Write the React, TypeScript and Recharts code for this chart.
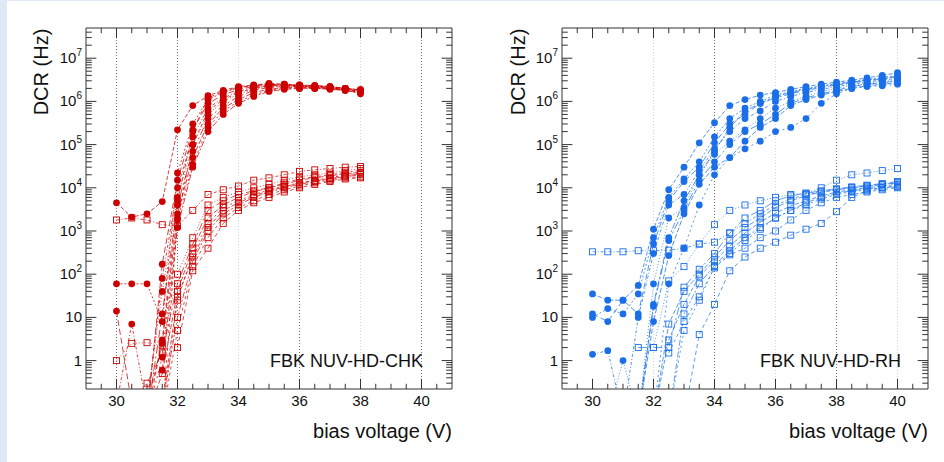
import { LineChart, Line, XAxis, YAxis, ReferenceLine } from 'recharts';

const FONT = '"Liberation Sans", Arial, sans-serif';

// bias voltage points (V)
const V_CHK = [30, 30.5, 31, 31.5, 32, 32.5, 33, 33.5, 34, 34.5, 35, 35.5, 36, 36.5, 37, 37.5, 38];
const V_RH = [30, 30.5, 31, 31.5, 32, 32.5, 33, 33.5, 34, 34.5, 35, 35.5, 36, 36.5, 37, 37.5, 38, 38.5, 39, 39.5, 40];

// FBK NUV-HD-CHK, upper family (filled circles), DCR in Hz
const CHK_HIGH = [
  [4500, 2100, 2500, 4800, 2.2e5, 8e5, 1.35e6, 1.8e6, 2.2e6, 2.4e6, 2.6e6, 2.5e6, 2.4e6, 2.3e6, 2.2e6, 2.0e6, 1.8e6],
  [60, 60, 60, 8, 2.2e4, 3e5, 1.1e6, 1.6e6, 2.1e6, 2.3e6, 2.5e6, 2.5e6, 2.4e6, 2.3e6, 2.2e6, 2.0e6, 1.9e6],
  [14, 0.1, 0.05, 170, 1.5e4, 2.2e5, 9e5, 1.4e6, 1.9e6, 2.2e6, 2.4e6, 2.4e6, 2.3e6, 2.3e6, 2.2e6, 2.0e6, 1.8e6],
  [0.1, 7, 0.08, 80, 1e4, 1.5e5, 7e5, 1.2e6, 1.7e6, 2.1e6, 2.3e6, 2.4e6, 2.3e6, 2.2e6, 2.1e6, 1.9e6, 1.7e6],
  [null, 0.05, 0.1, 40, 6e3, 1e5, 5e5, 1e6, 1.5e6, 1.9e6, 2.2e6, 2.3e6, 2.2e6, 2.2e6, 2.1e6, 1.9e6, 1.7e6],
  [null, null, 0.05, 12, 4e3, 7e4, 4e5, 8e5, 1.3e6, 1.8e6, 2.1e6, 2.2e6, 2.2e6, 2.1e6, 2.0e6, 1.9e6, 1.6e6],
  [null, null, 0.1, 2.5, 2.5e3, 5e4, 3e5, 7e5, 1.1e6, 1.6e6, 1.9e6, 2.1e6, 2.1e6, 2.1e6, 2.0e6, 1.8e6, 1.6e6],
  [null, null, 0.05, 1.2, 1.8e3, 3.5e4, 2.5e5, 6e5, 1e6, 1.4e6, 1.8e6, 2.0e6, 2.0e6, 2.0e6, 2.0e6, 1.8e6, 1.5e6],
  [null, null, null, 0.6, 1.2e3, 3e4, 2e5, 5e5, 9e5, 1.3e6, 1.7e6, 1.9e6, 2.0e6, 2.0e6, 1.9e6, 1.8e6, 1.6e6],
  [null, null, null, 0.05, 2e3, 1e5, 6e5, 1.1e6, 1.6e6, 2.0e6, 2.3e6, 2.3e6, 2.2e6, 2.1e6, 2.0e6, 1.9e6, 1.7e6],
  [null, null, 0.05, 3, 5e3, 2e5, 1.2e6, 1.7e6, 2.1e6, 2.3e6, 2.5e6, 2.4e6, 2.3e6, 2.2e6, 2.1e6, 2.0e6, 1.8e6],
];

// FBK NUV-HD-CHK, lower family (open squares)
const CHK_LOW = [
  [1800, 2000, 1800, 1400, 1300, 3000, 7000, 9000, 1.1e4, 1.5e4, 1.7e4, 2e4, 2.4e4, 2.6e4, 2.8e4, 3e4, 3.1e4],
  [1, 2.5, 2.6, 2.2, 100, 700, 4000, 6000, 8000, 1e4, 1.2e4, 1.5e4, 1.8e4, 2e4, 2.2e4, 2.5e4, 2.8e4],
  [0.05, 0.1, 0.3, 1.5, 60, 500, 3000, 5000, 7000, 8500, 1e4, 1.3e4, 1.6e4, 1.8e4, 2e4, 2.3e4, 2.5e4],
  [null, null, 0.05, 0.5, 40, 400, 2000, 4000, 6000, 8000, 1e4, 1.2e4, 1.5e4, 1.7e4, 1.9e4, 2.1e4, 2.3e4],
  [null, null, null, 0.05, 25, 300, 1500, 3500, 5000, 7000, 9000, 1.1e4, 1.3e4, 1.5e4, 1.7e4, 2e4, 2.2e4],
  [null, null, null, 0.1, 10, 200, 1000, 2500, 4000, 6000, 8000, 1e4, 1.2e4, 1.4e4, 1.6e4, 1.8e4, 2e4],
  [null, null, null, 0.05, 5, 150, 700, 2000, 3500, 5000, 7000, 9000, 1.1e4, 1.3e4, 1.5e4, 1.7e4, 1.8e4],
  [null, null, null, null, 2, 120, 400, 1500, 3000, 4500, 6000, 8000, 1e4, 1.2e4, 1.4e4, 1.6e4, 1.7e4],
  [null, null, null, 0.1, 30, 250, 1200, 3000, 4500, 6500, 8500, 1.05e4, 1.3e4, 1.45e4, 1.65e4, 1.9e4, 2.1e4],
];

// FBK NUV-HD-RH, upper family (filled circles)
const RH_HIGH = [
  [35, 25, 25, 55, 1100, 9000, 3e4, 1.1e5, 3.2e5, 8e5, 1.1e6, 1.4e6, 1.6e6, 1.9e6, 2.2e6, 2.5e6, 2.8e6, 3.1e6, 3.5e6, 4e6, 4.6e6],
  [10, 16, 12, 35, 700, 6000, 1.6e4, 4e4, 1.5e5, 4e5, 7e5, 1e6, 1.4e6, 1.7e6, 2e6, 2.3e6, 2.6e6, 2.9e6, 3.2e6, 3.6e6, 4e6],
  [12, 8, 25, 12, 500, 5000, 1.4e4, 3e4, 1.1e5, 3e5, 5e5, 9e5, 1.2e6, 1.5e6, 1.8e6, 2.1e6, 2.4e6, 2.7e6, 3e6, 3.3e6, 3.7e6],
  [1.4, 1.7, 0.05, 10, 300, 4000, 7000, 2.5e4, 8e4, 2e5, 4e5, 6e5, 1e6, 1.3e6, 1.6e6, 1.9e6, 2.2e6, 2.5e6, 2.8e6, 3.1e6, 3.4e6],
  [0.05, 0.05, 1, 0.05, 60, 2000, 3500, 2e4, 6e4, 1.2e5, 2.2e5, 4e5, 7e5, 1e6, 1.3e6, 1.7e6, 2e6, 2.3e6, 2.6e6, 2.9e6, 3.2e6],
  [null, null, null, 0.05, 18, 600, 3000, 1.5e4, 4e4, 1e5, 2e5, 3e5, 5e5, 9e5, 1.2e6, 1.5e6, 1.8e6, 2.2e6, 2.5e6, 2.7e6, 3e6],
  [null, null, null, 0.05, 8, 270, 2500, 1.2e4, 3e4, 5e4, 1.2e5, 2.5e5, 4e5, 8e5, 1.1e6, 1.4e6, 1.7e6, 2e6, 2.3e6, 2.5e6, 2.7e6],
  [null, null, null, null, 0.05, 60, 400, 4000, 2e4, 5e4, 8e4, 1.2e5, 2e5, 2.5e5, 4e5, 9e5, 1.5e6, 2e6, 2.2e6, 2.3e6, 2.5e6],
  [null, null, null, 0.05, 20, 700, 5000, 2e4, 7e4, 2.5e5, 6e5, 9e5, 1.3e6, 1.6e6, 1.9e6, 2.2e6, 2.5e6, 2.8e6, 3.1e6, 3.4e6, 3.8e6],
];

// FBK NUV-HD-RH, lower family (open squares)
const RH_LOW = [
  [330, 330, 330, 350, 350, 360, 400, 500, 550, 900, 1500, 2500, 4000, 5500, 7000, 8000, 9000, 1e4, 1.1e4, 1.2e4, 1.3e4],
  [null, null, null, null, 2, 70, 150, 500, 1400, 3000, 4000, 5000, 6000, 7000, 7500, 1e4, 1.5e4, 2e4, 2.2e4, 2.5e4, 2.8e4],
  [null, null, null, 2, 2, 2, 50, 130, 300, 900, 2000, 3000, 5000, 6500, 7500, 8500, 9500, 1.05e4, 1.15e4, 1.25e4, 1.4e4],
  [null, null, null, null, 0.05, 7, 40, 100, 250, 600, 1200, 2000, 3500, 5000, 6500, 8000, 9000, 1e4, 1.1e4, 1.2e4, 1.3e4],
  [null, null, null, null, null, 0.05, 5, 25, 150, 300, 600, 1100, 2000, 3000, 4000, 5500, 7000, 8000, 9000, 1e4, 1.1e4],
  [null, null, null, null, null, 0.05, 12, 60, 160, 350, 700, 1200, 2000, 3000, 4500, 6000, 7500, 8500, 9500, 1e4, 1.05e4],
  [null, null, null, null, null, 1.5, 8, 30, 140, 280, 400, 700, 1000, 1800, 3000, 4500, 6000, 7000, 8000, 9000, 1e4],
  [null, null, null, null, null, null, 0.05, 4, 20, 120, 250, 400, 550, 800, 1100, 1500, 2800, 6000, 8500, 1e4, 1.1e4],
  [null, null, null, null, 0.05, 3, 20, 90, 200, 450, 900, 1600, 2600, 3800, 5000, 6500, 8000, 9000, 1e4, 1.1e4, 1.2e4],
];

const X_TICKS = [30, 32, 34, 36, 38, 40];
const X_MINOR = [29.5, 30.5, 31, 31.5, 32.5, 33, 33.5, 34.5, 35, 35.5, 36.5, 37, 37.5, 38.5, 39, 39.5, 40.5];
const Y_TICKS = [1, 10, 100, 1e3, 1e4, 1e5, 1e6, 1e7];
const Y_MINOR = [0.3, 0.4, 0.5, 0.6, 0.7, 0.8, 0.9]
  .concat(...Y_TICKS.map((d) => [2, 3, 4, 5, 6, 7, 8, 9].map((m) => m * d)))
  .filter((v) => v < 5e7);

const X_MIN = 29;
const X_MAX = 41;
const Y_MIN = 0.22;
const Y_MAX = 5e7;
const DASHES = ['4 2', '2 2', '6 3', '3 2 1 2', '1 2', '8 3 2 3', '5 2', '2 3', '6 2 2 2', '3 3', '4 3'];

// tick lengths, expressed in axis units (x in volts, y as a log factor)
const XT_MAJOR = 0.34;
const XT_MINOR = 0.19;
const YT_MAJOR = 1.72;
const YT_MINOR = 1.32;

function YTick({ x, y, payload }: any) {
  const v = payload.value;
  const exp = Math.round(Math.log10(v));
  const common = { x, y, dy: 5, textAnchor: 'end' as const, fontSize: 15, fill: '#111', fontFamily: FONT };
  if (exp === 0) return <text {...common}>1</text>;
  if (exp === 1) return <text {...common}>10</text>;
  return (
    <text {...common}>
      10<tspan dy={-7} fontSize={10}>{exp}</tspan>
    </text>
  );
}

function circleDot(color: string, name: string) {
  return (p: any) =>
    p.cy == null || p.cx == null ? null : (
      <circle key={name + p.index} cx={p.cx} cy={p.cy} r={3.4} style={{ fill: color, stroke: 'none' }} />
    );
}

function squareDot(color: string, name: string) {
  return (p: any) =>
    p.cy == null || p.cx == null ? null : (
      <rect key={name + p.index} x={p.cx - 3} y={p.cy - 3} width={6} height={6}
        style={{ fill: 'none', stroke: color, strokeWidth: 0.9, strokeDasharray: 'none', strokeOpacity: 1 }} />
    );
}

interface PanelProps {
  volts: number[];
  high: (number | null)[][];
  low: (number | null)[][];
  color: string;
  width: number;
  leftW: number;
  rightM: number;
  darkGrid: number[];
  lightGrid: number[];
}

function Panel({ volts, high, low, color, width, leftW, rightM, darkGrid, lightGrid }: PanelProps) {
  const rows = volts.map((v, i) => {
    const row: any = { v };
    high.forEach((s, k) => (row['h' + k] = s[i]));
    low.forEach((s, k) => (row['l' + k] = s[i]));
    return row;
  });
  const frame = '#333';
  const ref = { xAxisId: 'x', yAxisId: 'y', stroke: frame, strokeWidth: 1, ifOverflow: 'visible' as const };

  const xTicks = [
    ...X_TICKS.map((t) => ({ t, f: YT_MAJOR })),
    ...X_MINOR.map((t) => ({ t, f: YT_MINOR })),
  ];
  const yTicks = [
    ...Y_TICKS.map((t) => ({ t, len: XT_MAJOR })),
    ...Y_MINOR.map((t) => ({ t, len: XT_MINOR })),
  ];

  return (
    <LineChart width={width} height={462} data={rows} margin={{ top: 28, right: rightM, bottom: 43, left: 0 }}>
      <XAxis xAxisId="x" dataKey="v" type="number" domain={[X_MIN, X_MAX]} allowDataOverflow ticks={X_TICKS} interval={0}
        tickLine={false} axisLine={false} tickSize={0} tickMargin={6} height={30}
        tick={{ fontSize: 15, fill: '#111', fontFamily: FONT }} />
      <YAxis yAxisId="y" type="number" scale="log" domain={[Y_MIN, Y_MAX]} allowDataOverflow ticks={Y_TICKS} interval={0}
        width={leftW} tickLine={false} axisLine={false} tickSize={0} tickMargin={4} tick={<YTick />} />

      {lightGrid.map((g) => (
        <ReferenceLine key={'lg' + g} xAxisId="x" yAxisId="y" x={g} stroke="#d4d4d4" strokeDasharray="1 2" />
      ))}
      {darkGrid.map((g) => (
        <ReferenceLine key={'dg' + g} xAxisId="x" yAxisId="y" x={g} stroke="#555" strokeOpacity={0.85} strokeDasharray="1 2" />
      ))}

      {low.map((_, k) => (
        <Line key={'l' + k} xAxisId="x" yAxisId="y" dataKey={'l' + k} type="linear" stroke={color} strokeOpacity={0.7}
          strokeWidth={1} strokeDasharray={DASHES[(k + 3) % DASHES.length]} dot={squareDot(color, 'l' + k)} activeDot={false}
          isAnimationActive={false} />
      ))}
      {high.map((_, k) => (
        <Line key={'h' + k} xAxisId="x" yAxisId="y" dataKey={'h' + k} type="linear" stroke={color} strokeOpacity={0.75}
          strokeWidth={1} strokeDasharray={DASHES[k % DASHES.length]} dot={circleDot(color, 'h' + k)} activeDot={false}
          isAnimationActive={false} />
      ))}

      {/* frame */}
      <ReferenceLine {...ref} segment={[{ x: X_MIN, y: Y_MIN }, { x: X_MAX, y: Y_MIN }]} />
      <ReferenceLine {...ref} segment={[{ x: X_MIN, y: Y_MAX }, { x: X_MAX, y: Y_MAX }]} />
      <ReferenceLine {...ref} segment={[{ x: X_MIN, y: Y_MIN }, { x: X_MIN, y: Y_MAX }]} />
      <ReferenceLine {...ref} segment={[{ x: X_MAX, y: Y_MIN }, { x: X_MAX, y: Y_MAX }]} />

      {/* inward ticks, bottom and top */}
      {xTicks.map(({ t, f }) => (
        <ReferenceLine key={'xb' + t} {...ref} segment={[{ x: t, y: Y_MIN }, { x: t, y: Y_MIN * f }]} />
      ))}
      {xTicks.map(({ t, f }) => (
        <ReferenceLine key={'xt' + t} {...ref} segment={[{ x: t, y: Y_MAX }, { x: t, y: Y_MAX / f }]} />
      ))}
      {/* inward ticks, left and right */}
      {yTicks.map(({ t, len }) => (
        <ReferenceLine key={'yl' + t} {...ref} segment={[{ x: X_MIN, y: t }, { x: X_MIN + len, y: t }]} />
      ))}
      {yTicks.map(({ t, len }) => (
        <ReferenceLine key={'yr' + t} {...ref} segment={[{ x: X_MAX, y: t }, { x: X_MAX - len, y: t }]} />
      ))}
    </LineChart>
  );
}

export default function App() {
  const txt = { fontFamily: FONT, fill: '#111' };
  return (
    <div style={{ position: 'absolute', left: 0, top: 0, width: 944, height: 462, background: '#dfe9f6', overflow: 'hidden' }}>
      <div style={{ position: 'absolute', left: 7, top: 1, width: 937, height: 461, background: '#fff' }} />
      <div style={{ position: 'absolute', left: 0, top: 0 }}>
        <Panel volts={V_CHK} high={CHK_HIGH} low={CHK_LOW} color="#cc0000" width={470} leftW={86} rightM={18}
          darkGrid={[30, 32, 36, 40]} lightGrid={[34, 38]} />
      </div>
      <div style={{ position: 'absolute', left: 470, top: 0 }}>
        <Panel volts={V_RH} high={RH_HIGH} low={RH_LOW} color="#1a6fe8" width={474} leftW={92} rightM={16}
          darkGrid={[34, 38]} lightGrid={[32, 36, 40]} />
      </div>
      <svg width={944} height={462} style={{ position: 'absolute', left: 0, top: 0, pointerEvents: 'none' }}>
        <text {...txt} fontSize={20} textAnchor="middle" transform="translate(48,72) rotate(-90)">DCR (Hz)</text>
        <text {...txt} fontSize={20} textAnchor="middle" transform="translate(525,72) rotate(-90)">DCR (Hz)</text>
        <text {...txt} fontSize={20} textAnchor="end" x={452} y={438}>bias voltage (V)</text>
        <text {...txt} fontSize={20} textAnchor="end" x={928} y={438}>bias voltage (V)</text>
        <text {...txt} fontSize={18} textAnchor="end" x={423} y={367}>FBK NUV-HD-CHK</text>
        <text {...txt} fontSize={18} textAnchor="end" x={901} y={367}>FBK NUV-HD-RH</text>
      </svg>
    </div>
  );
}
